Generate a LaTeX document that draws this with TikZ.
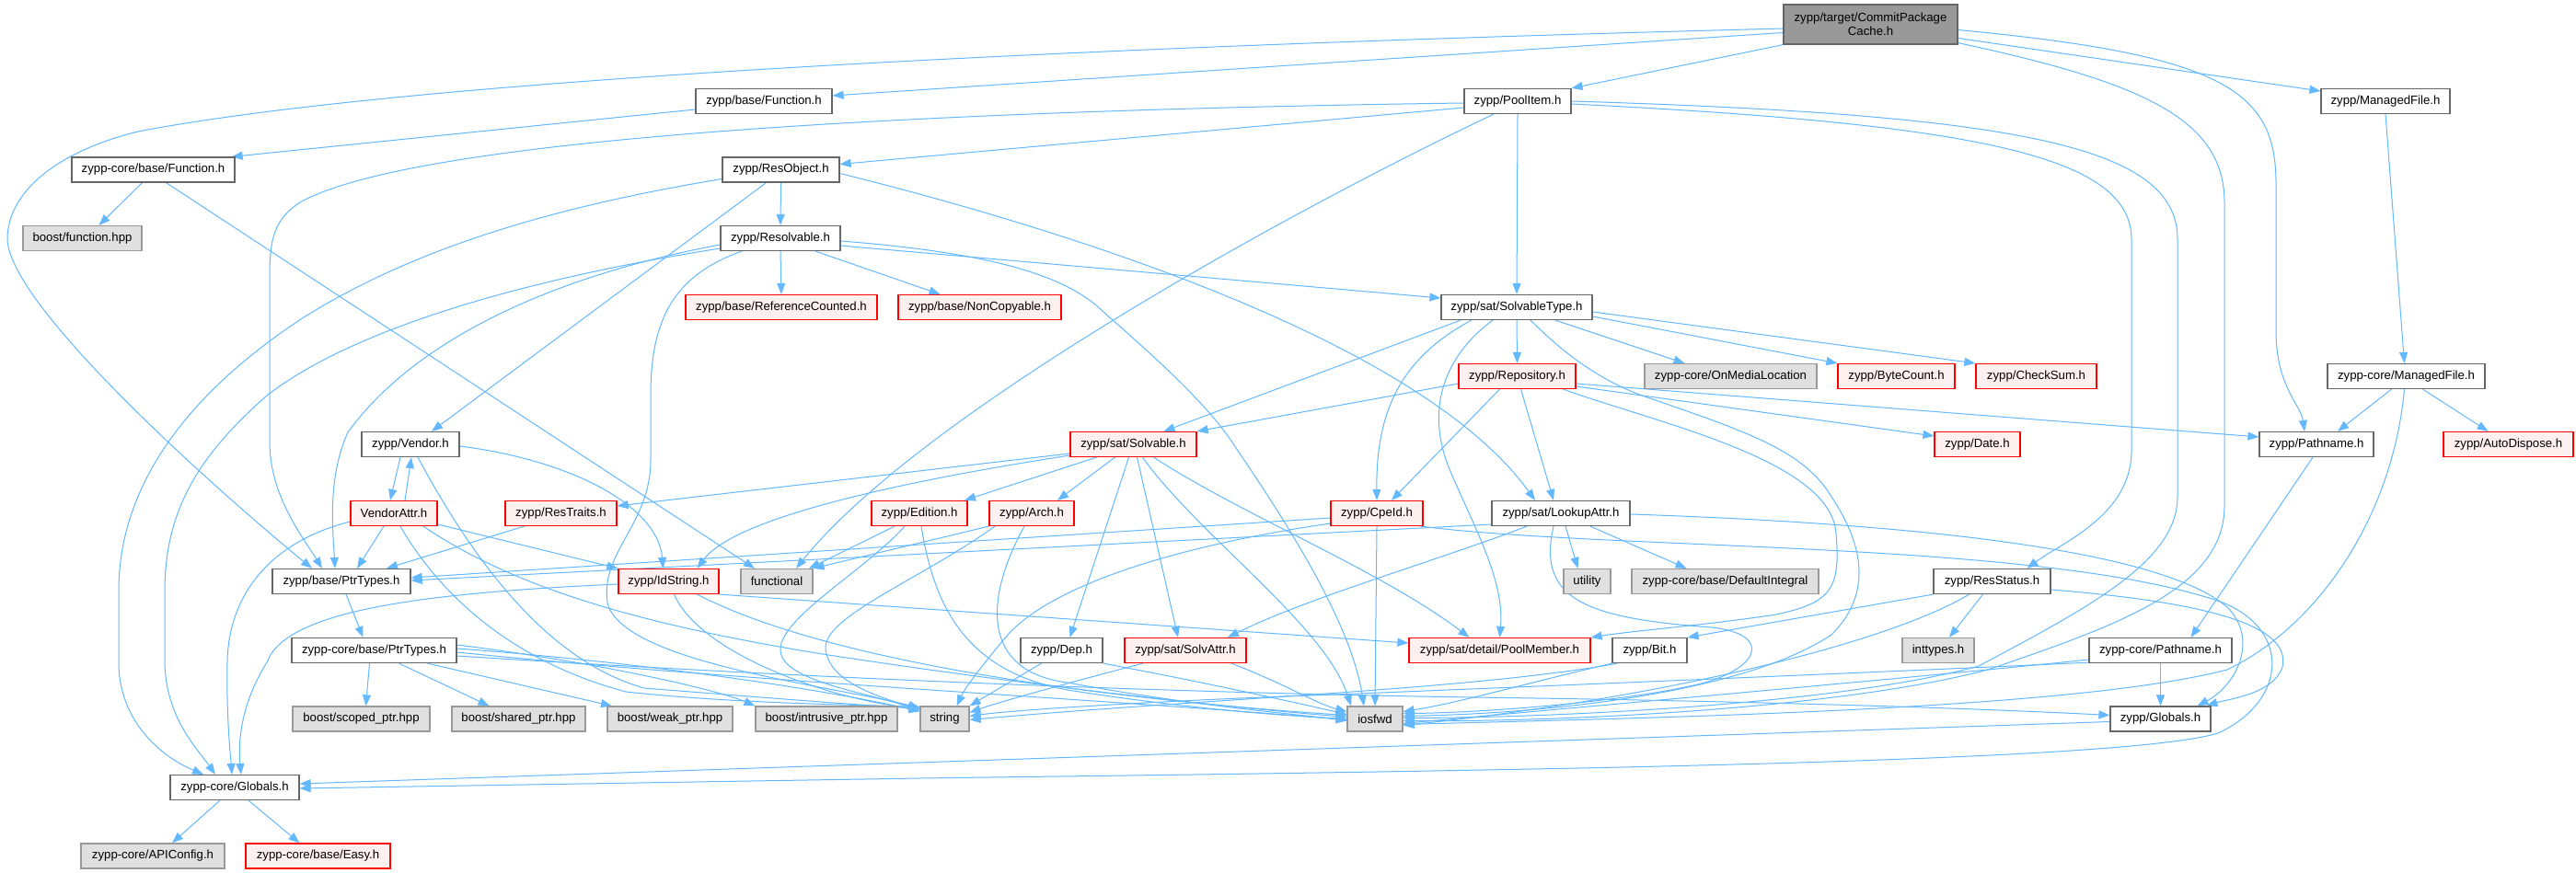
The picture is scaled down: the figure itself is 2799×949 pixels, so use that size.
\documentclass[tikz,border=0pt]{standalone}
\usepackage{fontspec}
\setmainfont{Liberation Sans}
\usetikzlibrary{arrows.meta}
\pgfdeclarelayer{bg}
\pgfsetlayers{bg,main}
\definecolor{edgec}{HTML}{63B8FF}
\definecolor{bord}{HTML}{666666}
\definecolor{gbord}{HTML}{999999}
\definecolor{gfill}{HTML}{E0E0E0}
\definecolor{rfill}{HTML}{FFF0F0}
\definecolor{rootfill}{HTML}{999999}
\begin{document}
\begin{tikzpicture}[x=1pt,y=-1pt,
  nbox/.style={draw=bord, fill=white, line width=1.2pt, minimum height=27pt, inner sep=0pt, font=\fontsize{13.2}{15}\selectfont, text=black},
  gbox/.style={nbox, draw=gbord, fill=gfill},
  rbox/.style={nbox, draw=red, fill=rfill},
  rootbox/.style={nbox, fill=rootfill, align=center},
  edg/.style={draw=edgec, line width=1pt, -{Triangle[length=12pt,width=9pt]}}
]
\useasboundingbox (0,0) rectangle (2799,949);
% ---------------- nodes ----------------
\node[rootbox, minimum width=189pt, minimum height=43pt] (cpc) at (2032.5,26.5) {zypp/target/CommitPackage\\Cache.h};
\node[nbox, minimum width=148pt] (bfun) at (830,110) {zypp/base/Function.h};
\node[nbox, minimum width=116pt] (pitem) at (1649,110) {zypp/PoolItem.h};
\node[nbox, minimum width=140pt] (mfile) at (2592,110) {zypp/ManagedFile.h};
\node[nbox, minimum width=177pt] (cfun) at (166.5,184.5) {zypp-core/base/Function.h};
\node[nbox, minimum width=127pt] (resobj) at (848.5,184.5) {zypp/ResObject.h};
\node[gbox, minimum width=129pt] (bfhpp) at (89.5,259) {boost/function.hpp};
\node[nbox, minimum width=130pt] (resolv) at (848,259) {zypp/Resolvable.h};
\node[rbox, minimum width=208pt] (refcnt) at (849,334) {zypp/base/ReferenceCounted.h};
\node[rbox, minimum width=177pt] (noncopy) at (1064.5,334) {zypp/base/NonCopyable.h};
\node[nbox, minimum width=164pt] (soltype) at (1648,334) {zypp/sat/SolvableType.h};
\node[rbox, minimum width=127pt] (repo) at (1648.5,409) {zypp/Repository.h};
\node[gbox, minimum width=187pt] (onmedia) at (1880.5,409) {zypp-core/OnMediaLocation};
\node[rbox, minimum width=127pt] (bytecnt) at (2060.5,409) {zypp/ByteCount.h};
\node[rbox, minimum width=131pt] (chksum) at (2212.5,409) {zypp/CheckSum.h};
\node[nbox, minimum width=171pt] (cmfile) at (2614.5,409) {zypp-core/ManagedFile.h};
\node[nbox, minimum width=106pt] (vendor) at (446,483) {zypp/Vendor.h};
\node[rbox, minimum width=137pt] (solvable) at (1231.5,483) {zypp/sat/Solvable.h};
\node[rbox, minimum width=93pt] (date) at (2148.5,483) {zypp/Date.h};
\node[nbox, minimum width=124pt] (pathname) at (2517,483) {zypp/Pathname.h};
\node[rbox, minimum width=141pt] (autodisp) at (2725.5,483) {zypp/AutoDispose.h};
\node[rbox, minimum width=94pt] (vattr) at (428,558) {VendorAttr.h};
\node[rbox, minimum width=121pt] (restraits) at (609.5,558) {zypp/ResTraits.h};
\node[rbox, minimum width=104pt] (edition) at (999,558) {zypp/Edition.h};
\node[rbox, minimum width=92pt] (arch) at (1121,558) {zypp/Arch.h};
\node[rbox, minimum width=100pt] (cpeid) at (1496,558) {zypp/CpeId.h};
\node[nbox, minimum width=150pt] (lookup) at (1696,558) {zypp/sat/LookupAttr.h};
\node[nbox, minimum width=150pt] (ptrtypes) at (371,632) {zypp/base/PtrTypes.h};
\node[rbox, minimum width=109pt] (idstring) at (726.5,632) {zypp/IdString.h};
\node[gbox, minimum width=78pt] (functional) at (844,632) {functional};
\node[gbox, minimum width=51pt] (utility) at (1724.5,632) {utility};
\node[gbox, minimum width=203pt] (defint) at (1874.5,632) {zypp-core/base/DefaultIntegral};
\node[nbox, minimum width=127pt] (resstatus) at (2164.5,632) {zypp/ResStatus.h};
\node[nbox, minimum width=179pt] (cptrtypes) at (406.5,707) {zypp-core/base/PtrTypes.h};
\node[nbox, minimum width=89pt] (dep) at (1153.5,707) {zypp/Dep.h};
\node[rbox, minimum width=132pt] (solvattr) at (1288,707) {zypp/sat/SolvAttr.h};
\node[rbox, minimum width=197pt] (poolmem) at (1629.5,707) {zypp/sat/detail/PoolMember.h};
\node[nbox, minimum width=81pt] (bit) at (1792.5,707) {zypp/Bit.h};
\node[gbox, minimum width=78pt] (inttypes) at (2106,707) {inttypes.h};
\node[nbox, minimum width=155pt] (cpathname) at (2347.5,707) {zypp-core/Pathname.h};
\node[gbox, minimum width=149pt] (scoped) at (392.5,781.5) {boost/scoped\_ptr.hpp};
\node[gbox, minimum width=145pt] (shared) at (563.5,781.5) {boost/shared\_ptr.hpp};
\node[gbox, minimum width=136pt] (weak) at (728,781.5) {boost/weak\_ptr.hpp};
\node[gbox, minimum width=154pt] (intrusive) at (898,781.5) {boost/intrusive\_ptr.hpp};
\node[gbox, minimum width=53pt] (string) at (1026.5,781.5) {string};
\node[gbox, minimum width=60pt] (iosfwd) at (1494,781.5) {iosfwd};
\node[nbox, minimum width=109pt] (zglobals) at (2347.5,781.5) {zypp/Globals.h};
\node[nbox, minimum width=140pt] (cglobals) at (255,856) {zypp-core/Globals.h};
\node[gbox, minimum width=156pt] (apiconfig) at (166,930.5) {zypp-core/APIConfig.h};
\node[rbox, minimum width=157pt] (easy) at (345.5,930.5) {zypp-core/base/Easy.h};
% ---------------- edges ----------------
\begin{pgfonlayer}{bg}
\fill[white] (0,0) rectangle (2799,949);
% CommitPackageCache
\draw[edg] ([yshift=-4.5pt]cpc.west) .. controls (1000,55) and (400,95) .. (150,143) .. controls (60,165) and (8,210) .. (8,260) .. controls (10,330) and (220,520) .. ([xshift=-32pt]ptrtypes.north);
\draw[edg] ([yshift=-9pt]cpc.west) -- ([yshift=6pt]bfun.east);
\draw[edg] (cpc.south west) -- (pitem.north east);
\draw[edg] ([yshift=-15pt]cpc.east) -- ([yshift=11pt]mfile.west);
\draw[edg] ([yshift=-6pt]cpc.east) .. controls (2420,60) and (2473,100) .. (2473,200) -- (2473,360) .. controls (2473,420) and (2500,440) .. ([xshift=-13pt]pathname.north);
\draw[edg] ([yshift=2pt]cpc.south east) .. controls (2330,90) and (2417,130) .. (2417,220) -- (2417,550) .. controls (2417,640) and (2300,680) .. (2160,728) .. controls (2000,770) and (1700,785) .. ([yshift=-2pt]iosfwd.east);
% base/Function
\draw[edg] ([yshift=-9pt]bfun.west) -- ([xshift=-4pt]cfun.north east);
\draw[edg] ([xshift=-12pt]cfun.south) -- ([xshift=18pt]bfhpp.north);
\draw[edg] ([xshift=14pt]cfun.south) -- ([xshift=-24pt]functional.north);
% PoolItem
\draw[edg] ([yshift=-7pt]pitem.west) -- ([yshift=6pt]resobj.east);
\draw[edg] ([yshift=-2pt]pitem.west) .. controls (1000,120) and (450,150) .. (326,220) .. controls (298,238) and (293,260) .. (293,300) -- (293,480) .. controls (293,540) and (330,585) .. ([xshift=-21pt]ptrtypes.north);
\draw[edg] (pitem.south) -- (soltype.north);
\draw[edg] ([xshift=-26pt]pitem.south) .. controls (1400,230) and (1000,450) .. ([xshift=21pt]functional.north);
\draw[edg] ([yshift=-3pt]pitem.east) .. controls (2150,135) and (2316,170) .. (2316,260) -- (2316,490) .. controls (2316,560) and (2240,590) .. ([xshift=38pt]resstatus.north);
\draw[edg] (pitem.east) .. controls (2200,125) and (2366,160) .. (2366,260) -- (2366,540) .. controls (2366,610) and (2270,660) .. (2150,724) .. controls (2000,765) and (1700,780) .. ([yshift=1pt]iosfwd.east);
% ManagedFile
\draw[edg] (mfile.south) -- ([xshift=-2pt]cmfile.north);
\draw[edg] ([xshift=-16pt]cmfile.south) -- ([xshift=23pt]pathname.north);
\draw[edg] ([xshift=18pt]cmfile.south) -- ([xshift=-22pt]autodisp.north);
\draw[edg] ([xshift=-2pt]cmfile.south) .. controls (2600,560) and (2520,680) .. (2420,728) .. controls (2250,772) and (1800,780) .. ([yshift=-6pt]iosfwd.east);
% ResObject
\draw[edg] (resobj.south) -- (resolv.north);
\draw[edg] ([xshift=-16pt]resobj.south) -- ([xshift=23pt]vendor.north);
\draw[edg] ([yshift=-4pt]resobj.east) .. controls (1200,260) and (1550,380) .. ([xshift=-28pt]lookup.north);
\draw[edg] ([yshift=-10pt]resobj.west) .. controls (600,225) and (450,270) .. (330,345) .. controls (200,430) and (130,530) .. (129,640) -- (129,720) .. controls (129,780) and (170,820) .. ([xshift=-34pt]cglobals.north);
% Resolvable
\draw[edg] (resolv.south) -- (refcnt.north);
\draw[edg] ([xshift=38pt]resolv.south) -- ([xshift=-43pt]noncopy.north);
\draw[edg] ([yshift=-8pt]resolv.east) -- ([yshift=10pt]soltype.west);
\draw[edg] ([yshift=-3pt]resolv.east) .. controls (1080,275) and (1160,300) .. (1200,340) .. controls (1280,410) and (1320,450) .. (1345,490) .. controls (1420,600) and (1470,690) .. ([xshift=-12pt]iosfwd.north);
\draw[edg] ([xshift=-42pt]resolv.south) .. controls (730,300) and (707,350) .. (707,430) -- (707,500) .. controls (707,570) and (652,600) .. (660,655) .. controls (675,720) and (900,745) .. ([yshift=-2pt]string.north west);
\draw[edg] ([yshift=-7pt]resolv.west) .. controls (600,300) and (450,370) .. (378,470) .. controls (355,520) and (362,580) .. ([xshift=-7pt]ptrtypes.north);
\draw[edg] ([yshift=-11pt]resolv.west) .. controls (560,305) and (380,360) .. (290,430) .. controls (210,500) and (180,560) .. (179,640) -- (179,720) .. controls (180,780) and (215,815) .. ([xshift=-21pt]cglobals.north);
% SolvableType
\draw[edg] ([xshift=-61pt]soltype.south) -- ([xshift=33pt]solvable.north);
\draw[edg] ([xshift=-49pt]soltype.south) .. controls (1520,390) and (1495,450) .. (cpeid.north);
\draw[edg] (soltype.south) -- (repo.north);
\draw[edg] ([xshift=42pt]soltype.south) -- ([xshift=-50pt]onmedia.north);
\draw[edg] ([yshift=-10pt]soltype.east) -- (bytecnt.north west);
\draw[edg] ([yshift=-5pt]soltype.east) -- (chksum.north west);
\draw[edg] ([xshift=-26pt]soltype.south) .. controls (1565,390) and (1550,450) .. (1575,510) .. controls (1600,570) and (1635,630) .. (poolmem.north);
\draw[edg] ([xshift=15pt]soltype.south) .. controls (1700,385) and (1740,415) .. (1790,432) .. controls (1900,470) and (1960,490) .. (1990,540) .. controls (2030,600) and (2030,650) .. (1990,690) .. controls (1900,750) and (1700,775) .. ([yshift=3pt]iosfwd.east);
% Repository
\draw[edg] ([yshift=-8pt]repo.west) -- (solvable.north east);
\draw[edg] ([xshift=-19pt]repo.south) -- ([xshift=16pt]cpeid.north);
\draw[edg] ([xshift=4pt]repo.south) -- ([xshift=-8pt]lookup.north);
\draw[edg] ([yshift=-8pt]repo.east) -- ([yshift=8pt]pathname.west);
\draw[edg] ([yshift=-11pt]repo.east) -- ([yshift=9pt]date.west);
\draw[edg] ([xshift=50pt]repo.south) .. controls (1800,460) and (1990,500) .. (1995,580) .. controls (2000,640) and (1990,655) .. (1930,668) .. controls (1850,680) and (1780,685) .. (poolmem.north east);
% Solvable
\draw[edg] ([yshift=-10pt]solvable.west) -- ([yshift=8pt]restraits.east);
\draw[edg] ([yshift=-12pt]solvable.west) .. controls (1000,520) and (800,560) .. ([xshift=31pt]idstring.north);
\draw[edg] ([xshift=-40pt]solvable.south) -- ([xshift=49pt]edition.north);
\draw[edg] ([xshift=-20pt]solvable.south) -- ([xshift=28pt]arch.north);
\draw[edg] ([xshift=-5pt]solvable.south) -- ([xshift=9pt]dep.north);
\draw[edg] ([xshift=4pt]solvable.south) -- ([xshift=-8pt]solvattr.north);
\draw[edg] ([xshift=10pt]solvable.south) .. controls (1300,580) and (1440,680) .. ([xshift=-26pt]iosfwd.north);
\draw[edg] ([xshift=22pt]solvable.south) .. controls (1350,560) and (1500,620) .. ([xshift=-33pt]poolmem.north);
% Vendor / VendorAttr
\draw[edg] ([xshift=-11pt]vendor.south) -- ([xshift=-4pt]vattr.north);
\draw[edg] ([xshift=12pt]vattr.north) -- ([xshift=1pt]vendor.south);
\draw[edg] ([yshift=-2pt]vendor.east) .. controls (620,500) and (715,550) .. ([xshift=-6pt]idstring.north);
\draw[edg] ([xshift=8pt]vendor.south) .. controls (520,620) and (600,720) .. (700,748) .. controls (850,760) and (930,766) .. ([yshift=-3pt]string.north west);
\draw[edg] ([xshift=-11pt]vattr.south) -- ([xshift=17pt]ptrtypes.north);
\draw[edg] ([yshift=-12pt]vattr.east) -- (idstring.north west);
\draw[edg] ([yshift=-9pt]vattr.west) .. controls (290,590) and (248,650) .. (247,720) .. controls (246,780) and (250,815) .. ([xshift=-3pt]cglobals.north);
\draw[edg] ([xshift=7pt]vattr.south) .. controls (480,650) and (560,720) .. (680,752) .. controls (800,765) and (930,766) .. ([yshift=-1pt]string.north west);
\draw[edg] ([xshift=32pt]vattr.south) .. controls (560,640) and (700,680) .. (900,712) .. controls (1150,750) and (1350,770) .. ([yshift=2pt]iosfwd.west);
\draw[edg] ([xshift=-40pt]restraits.south) -- ([xshift=49pt]ptrtypes.north);
% Edition / Arch
\draw[edg] ([xshift=-27pt]edition.south) -- ([xshift=35pt]functional.north);
\draw[edg] ([xshift=-16pt]edition.south) .. controls (940,620) and (850,670) .. (848,705) .. controls (846,740) and (940,752) .. ([yshift=-5pt]string.north west);
\draw[edg] ([xshift=2pt]edition.south) .. controls (1015,660) and (1050,730) .. (1160,750) .. controls (1300,772) and (1400,778) .. (iosfwd.west);
\draw[edg] (arch.south west) -- (functional.north east);
\draw[edg] ([xshift=-40pt]arch.south) .. controls (1000,630) and (895,670) .. (897,705) .. controls (900,740) and (950,756) .. ([yshift=-4pt]string.north west);
\draw[edg] ([xshift=-8pt]arch.south) .. controls (1070,650) and (1065,730) .. (1160,742) .. controls (1300,768) and (1400,775) .. ([yshift=-2pt]iosfwd.west);
% CpeId
\draw[edg] ([yshift=-5pt]cpeid.west) -- ([yshift=4pt]ptrtypes.east);
\draw[edg] (cpeid.south) -- (iosfwd.north);
\draw[edg] ([yshift=-11pt]cpeid.west) .. controls (1300,590) and (1150,630) .. (1095,690) .. controls (1070,720) and (1050,745) .. ([xshift=13pt]string.north);
\draw[edg] ([xshift=-3pt]cpeid.south east) .. controls (1750,598) and (2200,588) .. (2400,650) .. controls (2490,675) and (2490,760) .. (2410,797) .. controls (2300,830) and (1600,838) .. (1000,846) -- ([yshift=-1pt]cglobals.east);
% LookupAttr
\draw[edg] ([yshift=-12pt]lookup.west) -- ([yshift=1pt]ptrtypes.east);
\draw[edg] ([xshift=5pt]lookup.south) -- ([xshift=-10pt]utility.north);
\draw[edg] ([xshift=32pt]lookup.south) -- ([xshift=-42pt]defint.north);
\draw[edg] ([xshift=-37pt]lookup.south) .. controls (1560,610) and (1420,650) .. ([xshift=46pt]solvattr.north);
\draw[edg] ([xshift=-8pt]lookup.south) .. controls (1670,650) and (1720,672) .. (1860,682) .. controls (1930,690) and (1910,730) .. (1840,745) .. controls (1750,765) and (1600,775) .. ([yshift=6pt]iosfwd.east);
\draw[edg] ([yshift=-1pt]lookup.east) .. controls (2100,570) and (2350,600) .. (2420,660) .. controls (2455,695) and (2430,745) .. ([xshift=40pt]zglobals.north);
% PtrTypes / IdString
\draw[edg] ([xshift=5pt]ptrtypes.south) -- ([xshift=-12pt]cptrtypes.north);
\draw[edg] ([yshift=-3pt]idstring.west) .. controls (450,645) and (310,665) .. (290,720) .. controls (265,760) and (258,800) .. ([xshift=7pt]cglobals.north);
\draw[edg] ([xshift=6pt]idstring.south) .. controls (760,710) and (900,760) .. ([yshift=-3pt]string.north west);
\draw[edg] ([xshift=31pt]idstring.south) .. controls (900,720) and (1200,760) .. ([yshift=4pt]iosfwd.west);
\draw[edg] (idstring.south east) -- ([yshift=8pt]poolmem.west);
% ResStatus
\draw[edg] ([xshift=-10pt]resstatus.south) -- ([xshift=12pt]inttypes.north);
\draw[edg] ([xshift=-25pt]resstatus.south) .. controls (2050,700) and (1800,760) .. ([yshift=-7pt]iosfwd.east);
\draw[edg] (resstatus.south west) -- (bit.north east);
\draw[edg] ([yshift=-9pt]resstatus.east) .. controls (2400,655) and (2490,680) .. (2480,725) .. controls (2470,755) and (2420,760) .. ([xshift=50pt]zglobals.north);
% core PtrTypes
\draw[edg] ([xshift=-5pt]cptrtypes.south) -- ([xshift=5pt]scoped.north);
\draw[edg] ([xshift=27pt]cptrtypes.south) -- ([xshift=-32pt]shared.north);
\draw[edg] ([xshift=58pt]cptrtypes.south) -- ([xshift=-63pt]weak.north);
\draw[edg] ([yshift=6pt]cptrtypes.east) .. controls (650,720) and (780,750) .. (intrusive.north west);
\draw[edg] ([yshift=2pt]cptrtypes.east) .. controls (700,720) and (900,750) .. ([yshift=-6pt]string.north west);
\draw[edg] ([yshift=-2pt]cptrtypes.east) .. controls (800,740) and (1200,760) .. ([yshift=-1pt]iosfwd.west);
\draw[edg] ([yshift=-6pt]cptrtypes.east) .. controls (1000,745) and (1400,755) .. (1600,758) .. controls (1900,762) and (2150,770) .. ([yshift=4pt]zglobals.west);
% Dep / SolvAttr / Bit
\draw[edg] ([xshift=-22pt]dep.south) -- ([xshift=27pt]string.north);
\draw[edg] (dep.south east) .. controls (1300,740) and (1400,762) .. ([yshift=5pt]iosfwd.west);
\draw[edg] ([xshift=-46pt]solvattr.south) .. controls (1150,745) and (1080,765) .. ([yshift=7pt]string.east);
\draw[edg] ([xshift=50pt]solvattr.south) .. controls (1400,745) and (1430,765) .. ([yshift=8pt]iosfwd.west);
\draw[edg] (bit.south west) .. controls (1650,745) and (1580,765) .. ([yshift=8pt]iosfwd.east);
\draw[edg] ([xshift=6pt]bit.south west) .. controls (1600,750) and (1300,760) .. ([yshift=-1pt]string.east);
% Pathname
\draw[edg] (cpathname.south) -- (zglobals.north);
\draw[edg] ([yshift=1pt]cpathname.south west) .. controls (2150,726) and (1700,745) .. (1450,755) .. controls (1250,762) and (1100,772) .. ([yshift=3pt]string.east);
\draw[edg] ([yshift=-10pt]cpathname.west) .. controls (2100,735) and (1700,770) .. ([yshift=-5pt]iosfwd.east);
\draw[edg] ([xshift=-4pt]pathname.south) -- ([xshift=33pt]cpathname.north);
% Globals
\draw[edg] ([yshift=-3pt]zglobals.west) -- ([yshift=4pt]cglobals.east);
\draw[edg] ([xshift=-16pt]cglobals.south) -- ([xshift=21pt]apiconfig.north);
\draw[edg] ([xshift=15pt]cglobals.south) -- ([xshift=-20pt]easy.north);
\end{pgfonlayer}
\end{tikzpicture}
\end{document}
